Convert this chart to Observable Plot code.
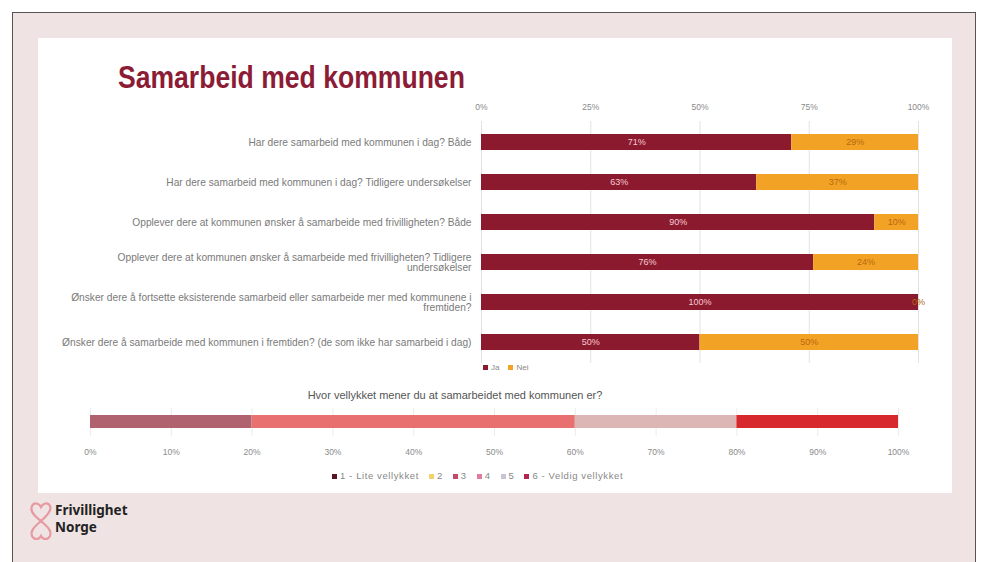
<!DOCTYPE html>
<html>
<head>
<meta charset="utf-8">
<script src="https://cdn.jsdelivr.net/npm/d3@7"></script>
<script src="https://cdn.jsdelivr.net/npm/@observablehq/plot@0.6"></script>
<style>
  html, body { margin: 0; padding: 0; background: #fff; }
  body { width: 988px; height: 562px; position: relative; overflow: hidden; font-family: "Liberation Sans", Arial, sans-serif; }
  #frame { position: absolute; left: 12px; top: 12px; width: 962px; height: 570px; border: 1.5px solid #555; background: #efe3e3; }
  #panel { position: absolute; left: 38px; top: 38px; width: 914px; height: 455px; background: #fff; }
  #title { position: absolute; left: 118px; top: 59px; font-size: 32px; font-weight: bold; color: #8c1b36; white-space: nowrap; line-height: 36px; transform: scaleX(0.83); transform-origin: 0 0; }
  #top { position: absolute; left: 38px; top: 90px; }
  #bottom { position: absolute; left: 38px; top: 400px; }
  .legend { position: absolute; display: flex; gap: 9px; font-size: 8px; color: #888; white-space: nowrap; align-items: center; }
  .legend span.sw { display: inline-block; width: 5px; height: 5px; margin-right: 3px; vertical-align: middle; }
  #legTop { left: 483px; top: 363px; }
  #legBottom { left: 332px; top: 470px; gap: 10px; font-size: 9.5px; letter-spacing: 0.6px; }
  #subtitle { position: absolute; left: 38px; width: 834px; top: 389px; text-align: center; font-size: 11px; color: #555; }
  #logo { position: absolute; left: 28px; top: 500px; }
  #logoText { position: absolute; left: 55px; top: 502px; font-family: "Noto Sans", sans-serif; font-weight: bold; font-size: 13.5px; line-height: 17px; color: #222; }
</style>
</head>
<body>
<div id="frame"></div>
<div id="panel"></div>
<div id="title">Samarbeid med kommunen</div>
<div id="top"></div>
<div id="legTop" class="legend"></div>
<div id="subtitle">Hvor vellykket mener du at samarbeidet med kommunen er?</div>
<div id="bottom"></div>
<div id="legBottom" class="legend"></div>
<svg id="logo" width="26" height="44" viewBox="0 0 26 44">
  <path d="M13 21 C4 14 2 10 4 6 C6 2 11 3 13 7 C15 3 20 2 22 6 C24 10 20 15 13 21 Z" fill="none" stroke="#e79aa2" stroke-width="2.2"/>
  <path d="M13 21 C6 27 2 31 4 36 C6 40 11 40 13 36 C15 40 20 40 22 36 C24 31 20 27 13 21 Z" fill="none" stroke="#e79aa2" stroke-width="2.2"/>
</svg>
<div id="logoText">Frivillighet<br>Norge</div>
<script>
// ---- Data ----
const questions = [
  "Har dere samarbeid med kommunen i dag? Både",
  "Har dere samarbeid med kommunen i dag? Tidligere undersøkelser",
  "Opplever dere at kommunen ønsker å samarbeide med frivilligheten? Både",
  "Opplever dere at kommunen ønsker å samarbeide med frivilligheten? Tidligere\nundersøkelser",
  "Ønsker dere å fortsette eksisterende samarbeid eller samarbeide mer med kommunene i\nfremtiden?",
  "Ønsker dere å samarbeide med kommunen i fremtiden? (de som ikke har samarbeid i dag)"
];
const answers = ["Ja", "Nei"];
const jaValues = [71, 63, 90, 76, 100, 50];
const neiValues = [29, 37, 10, 24, 0, 50];
const topTicks = [0, 25, 50, 75, 100];

const ratingQuestion = "Hvor vellykket mener du at samarbeidet med kommunen er?";
const ratingLevels = ["1 - Lite vellykket", "2", "3", "4", "5", "6 - Veldig vellykket"];
const ratingShares = [20, 0, 40, 20, 0, 20];
const bottomTicks = [0, 10, 20, 30, 40, 50, 60, 70, 80, 90, 100];

// ---- Styles ----
const answerColors = ["#8c1a2f", "#f2a325"];
const answerTextColors = ["#f7c9d0", "#b8680f"];
const ratingColors = ["#b0636e", "#f1d36a", "#e8706f", "#dcb5b5", "#c9c3d3", "#d7282d"];
const ratingLegendColors = ["#5a1424", "#f1d36a", "#c8486a", "#e07aa0", "#c9c3d3", "#b0284f"];

const topData = [];
questions.forEach((q, i) => {
  topData.push({q, answer: "Ja", value: jaValues[i]});
  topData.push({q, answer: "Nei", value: neiValues[i]});
});

const labelFor = a => d => d.answer === a ? d.value + "%" : "";

const topPlot = Plot.plot({
  width: 914,
  height: 278,
  marginLeft: 443,
  marginRight: 34,
  marginTop: 31,
  marginBottom: 5,
  style: {fontFamily: "Liberation Sans, Arial, sans-serif", background: "transparent"},
  x: {domain: [0, 100], axis: null, label: null},
  y: {domain: questions, paddingInner: 0.6, paddingOuter: 0.3, axis: null, label: null},
  color: {domain: answers, range: answerColors},
  marks: [
    Plot.gridX(topTicks, {stroke: "#e2e2e2", strokeOpacity: 1}),
    Plot.axisX(topTicks, {anchor: "top", label: null, tickSize: 0, tickPadding: 12, tickFormat: d => d + "%", fontSize: 8.5, color: "#8a8a8a"}),
    Plot.axisY({label: null, tickSize: 0, tickPadding: 10, fontSize: 10.2, fill: "#7a7a7a", textAnchor: "end"}),
    Plot.barX(topData, Plot.stackX({x: "value", y: "q", fill: "answer", z: "answer", order: answers})),
    Plot.textX(topData, Plot.stackX({x: "value", y: "q", z: "answer", order: answers, text: labelFor("Ja"), fill: answerTextColors[0], fontSize: 9})),
    Plot.textX(topData, Plot.stackX({x: "value", y: "q", z: "answer", order: answers, text: labelFor("Nei"), fill: answerTextColors[1], fontSize: 9}))
  ]
});
document.getElementById("top").appendChild(topPlot);

const ratingData = ratingLevels.map((level, i) => ({q: ratingQuestion, level, value: ratingShares[i]}));

const bottomPlot = Plot.plot({
  width: 914,
  height: 66,
  marginLeft: 52,
  marginRight: 54,
  marginTop: 8,
  marginBottom: 30,
  style: {fontFamily: "Liberation Sans, Arial, sans-serif", background: "transparent"},
  x: {domain: [0, 100], axis: null, label: null},
  y: {domain: [ratingQuestion], padding: 1 / 3, axis: null, label: null},
  color: {domain: ratingLevels, range: ratingColors},
  marks: [
    Plot.gridX(bottomTicks, {stroke: "#ececec", strokeOpacity: 1}),
    Plot.axisX(bottomTicks, {anchor: "bottom", label: null, tickSize: 0, tickPadding: 12, tickFormat: d => d + "%", fontSize: 8.5, color: "#8a8a8a"}),
    Plot.barX(ratingData, Plot.stackX({x: "value", y: "q", fill: "level", z: "level", order: ratingLevels}))
  ]
});
document.getElementById("bottom").appendChild(bottomPlot);

function legend(el, labels, colors) {
  const box = document.getElementById(el);
  labels.forEach((l, i) => {
    const item = document.createElement("div");
    const sw = document.createElement("span");
    sw.className = "sw";
    sw.style.background = colors[i];
    item.appendChild(sw);
    item.appendChild(document.createTextNode(l));
    box.appendChild(item);
  });
}
legend("legTop", answers, answerColors);
legend("legBottom", ratingLevels, ratingLegendColors);
</script>
</body>
</html>
